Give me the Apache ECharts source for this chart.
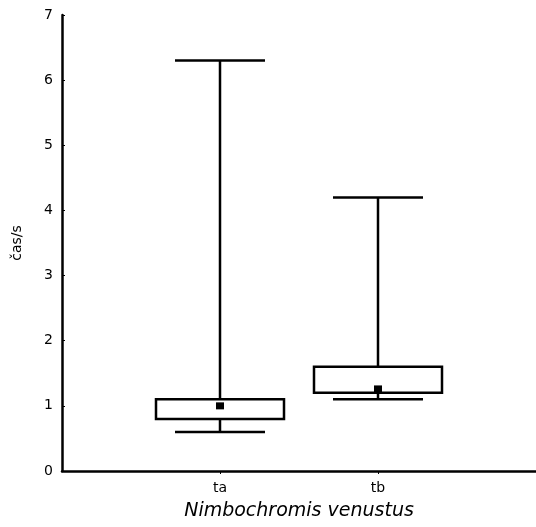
<!DOCTYPE html>
<html>
<head>
<meta charset="utf-8">
<script src="https://cdn.jsdelivr.net/npm/echarts@6/dist/echarts.min.js"></script>
<style>
  html, body { margin: 0; padding: 0; background: #fff; }
  #chart { width: 536px; height: 527px; }
</style>
</head>
<body>
<div id="chart"></div>
<script>
// Box-and-whisker summary of time (s) per group
const categories = ['ta', 'tb'];
const whiskerLow = [0.6, 1.1];
const quartile1 = [0.8, 1.2];
const quartile3 = [1.1, 1.6];
const whiskerHigh = [6.3, 4.2];
const means = [1.0, 1.26];

const yMin = 0, yMax = 7, yStep = 1;
const xAxisTitle = 'Nimbochromis venustus';
const yAxisTitle = 'čas/s';

// rows: [position, low, q1, q3, high, mean]
const rows = categories.map((c, i) => [i + 1, whiskerLow[i], quartile1[i], quartile3[i], whiskerHigh[i], means[i]]);

const BOX_HALF = 64;
const CAP_HALF = 45;
const LINE_W = 2.5;

function renderBox(params, api) {
  const x = api.value(0);
  const pLow = api.coord([x, api.value(1)]);
  const pQ1 = api.coord([x, api.value(2)]);
  const pQ3 = api.coord([x, api.value(3)]);
  const pHigh = api.coord([x, api.value(4)]);
  const pMean = api.coord([x, api.value(5)]);
  const cx = pQ1[0];
  const stroke = { stroke: '#000', lineWidth: LINE_W, fill: null };
  return {
    type: 'group',
    children: [
      { type: 'line', shape: { x1: cx, y1: pHigh[1], x2: cx, y2: pQ3[1] }, style: stroke },
      { type: 'line', shape: { x1: cx, y1: pQ1[1], x2: cx, y2: pLow[1] }, style: stroke },
      { type: 'line', shape: { x1: cx - CAP_HALF, y1: pHigh[1], x2: cx + CAP_HALF, y2: pHigh[1] }, style: stroke },
      { type: 'line', shape: { x1: cx - CAP_HALF, y1: pLow[1], x2: cx + CAP_HALF, y2: pLow[1] }, style: stroke },
      { type: 'rect', shape: { x: cx - BOX_HALF, y: pQ3[1], width: BOX_HALF * 2, height: pQ1[1] - pQ3[1] },
        style: { stroke: '#000', lineWidth: LINE_W, fill: '#fff' } },
      { type: 'rect', shape: { x: cx - 4, y: pMean[1] - 3.5, width: 8, height: 7 },
        style: { fill: '#000', stroke: null } }
    ]
  };
}

const chart = echarts.init(document.getElementById('chart'), null, { renderer: 'canvas' });
chart.setOption({
  animation: false,
  backgroundColor: '#fff',
  grid: { left: 62, top: 15, width: 478, height: 456 },
  xAxis: {
    type: 'value',
    min: 0, max: categories.length + 1, interval: 1,
    name: xAxisTitle,
    nameLocation: 'middle',
    nameGap: 31,
    nameTextStyle: { fontFamily: 'DejaVu Sans', fontStyle: 'italic', fontSize: 19, color: '#000' },
    axisLine: { lineStyle: { color: '#000', width: 2.5 } },
    axisTick: {
      show: true, length: 3, lineStyle: { color: '#000', width: 1 },
      customValues: categories.map((c, i) => i + 1)
    },
    axisLabel: {
      fontFamily: 'DejaVu Sans', fontSize: 14, color: '#000', margin: 10,
      customValues: categories.map((c, i) => i + 1),
      formatter: v => categories[v - 1] || ''
    },
    splitLine: { show: false }
  },
  yAxis: {
    type: 'value',
    min: yMin, max: yMax, interval: yStep,
    name: yAxisTitle,
    nameLocation: 'middle',
    nameGap: 38,
    nameRotate: 90,
    nameTextStyle: { fontFamily: 'DejaVu Sans', fontSize: 14, color: '#000' },
    axisLine: { show: true, lineStyle: { color: '#000', width: 2.5 } },
    axisTick: { show: true, inside: true, length: 3, lineStyle: { color: '#000', width: 1 } },
    axisLabel: { fontFamily: 'DejaVu Sans', fontSize: 14, color: '#000', margin: 9 },
    splitLine: { show: false }
  },
  series: [{
    type: 'custom',
    renderItem: renderBox,
    encode: { x: 0, y: [1, 2, 3, 4, 5] },
    data: rows,
    clip: false
  }]
});
</script>
</body>
</html>
